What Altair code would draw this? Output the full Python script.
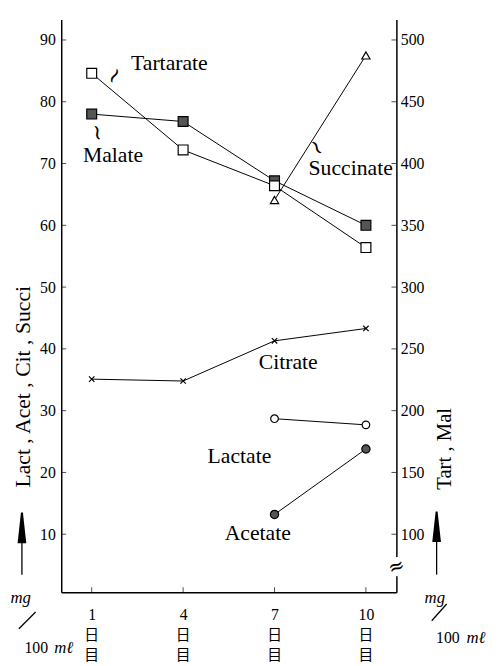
import altair as alt
import pandas as pd

# ---------------- data ----------------
days = [1, 4, 7, 10]
late_days = [7, 10]
tartarate = [473, 411, 382, 332]      # right axis (Tart)
malate = [440, 434, 386, 350]         # right axis (Mal)
citrate = [35.1, 34.8, 41.3, 43.3]    # left axis
succinate = [64.1, 87.5]              # left axis (days 7, 10)
lactate = [28.7, 27.7]                # left axis (days 7, 10)
acetate = [13.2, 23.8]                # left axis (days 7, 10)

left_ticks = [10, 20, 30, 40, 50, 60, 70, 80, 90]
right_ticks = [100, 150, 200, 250, 300, 350, 400, 450, 500]
day_suffix = ["日", "目"]

series_names = ["Tartarate", "Malate", "Succinate", "Citrate", "Lactate", "Acetate"]
label_day = [3.55, 1.7, 9.5, 7.45, 5.85, 6.45]
label_val = [86.2, 71.3, 69.2, 37.8, 22.7, 10.2]

# right axis (Tart, Mal) is drawn on the left scale: right = 5 * left + 50
R_SLOPE, R_OFF = 5, 50

SERIF = "Liberation Serif"
CJK = "Noto Sans CJK JP"

xscale = alt.Scale(domain=[0, 11], nice=False, zero=False)
yscale = alt.Scale(domain=[0.6, 93.3], nice=False, zero=False)

XAXIS = alt.Axis(
    orient="bottom", values=days, ticks=False, grid=False, labelFont=SERIF,
    labelFontSize=16, labelColor="black", labelPadding=15, domainColor="black",
    domainWidth=1.5, title="", labelFlush=False, labelOverlap=False)


def X(field="day"):
    return alt.X(f"{field}:Q", scale=xscale, axis=XAXIS)


def XD(value):
    return alt.X(datum=value, type="quantitative", scale=xscale, axis=XAXIS)


def Y(field="v"):
    return alt.Y(f"{field}:Q", scale=yscale, axis=None)


def series(dlist, vlist, shape, fill, size, filled=True, right=False):
    df = pd.DataFrame({"day": dlist, "raw": vlist})
    if right:
        expr = f"(datum.raw - {R_OFF}) / {R_SLOPE}"
    else:
        expr = "datum.raw"
    base = alt.Chart(df).transform_calculate(v=expr)
    line = base.mark_line(color="black", strokeWidth=1).encode(x=X(), y=Y())
    pts = base.mark_point(
        shape=shape, filled=filled, fill=fill, stroke="black", strokeWidth=1.2,
        size=size, opacity=1
    ).encode(x=X(), y=Y())
    return [line, pts]


CROSS = "M-1,-1L1,1M-1,1L1,-1"
ARROW = "M0,-1L0.22,1L-0.22,1Z"

# x axis carrier (inward ticks drawn as tick marks)
x_axis = alt.Chart(pd.DataFrame({"day": days})).mark_tick(
    orient="vertical", size=5, thickness=1, color="black", yOffset=-2.5).encode(
    x=X(),
    y=alt.Y(datum=0.6, type="quantitative", scale=yscale, axis=None)
)

# left axis
left_axis = alt.Chart(pd.DataFrame({"v": left_ticks})).mark_tick(
    orient="horizontal", size=5, thickness=1, color="black", xOffset=2.5).encode(
    x=XD(0),
    y=alt.Y("v:Q", scale=yscale, axis=alt.Axis(
        orient="left", values=left_ticks, ticks=False, grid=False, labelFont=SERIF,
        labelFontSize=16, labelColor="black", labelPadding=6, domainColor="black",
        domainWidth=1.5, title="Lact , Acet , Cit , Succi", titleFont=SERIF,
        titleFontSize=22, titleFontWeight="normal", titleColor="black", titleAngle=270,
        titleX=-39, titleY=372, titleAlign="center", titleBaseline="middle"))
)

# right axis
right_vals = [(t - R_OFF) / R_SLOPE for t in right_ticks]
right_axis = alt.Chart(pd.DataFrame({"raw": right_ticks})).transform_calculate(
    v=f"(datum.raw - {R_OFF}) / {R_SLOPE}").mark_tick(
    orient="horizontal", size=5, thickness=1, color="black", xOffset=-2.5).encode(
    x=XD(11),
    y=alt.Y("v:Q", scale=yscale, axis=alt.Axis(
        orient="right", values=right_vals, labelExpr=f"format(datum.value * {R_SLOPE} + {R_OFF}, 'd')",
        ticks=False, grid=False, labelFont=SERIF, labelFontSize=16, labelColor="black",
        labelPadding=4, domainColor="black", domainWidth=1.5, title="Tart , Mal",
        titleFont=SERIF, titleFontSize=21, titleFontWeight="normal", titleColor="black",
        titleAngle=270, titleX=49, titleY=435, titleAlign="center", titleBaseline="middle"))
)

layers = []
layers += series(days, citrate, CROSS, None, 30, filled=False)
layers += series(late_days, succinate, "triangle-up", "white", 70)
layers += series(late_days, lactate, "circle", "white", 60)
layers += series(late_days, acetate, "circle", "#555555", 70)
layers += series(days, malate, "square", "#555555", 100, right=True)
layers += series(days, tartarate, "square", "white", 100, right=True)

# the "日 / 目" under each day number
suffix_rows = []
for d in days:
    for k, ch in enumerate(day_suffix):
        suffix_rows.append({"day": d, "t": ch, "v": -6.4 - 3.2 * k})
suffix = alt.Chart(pd.DataFrame(suffix_rows)).mark_text(
    font=CJK, fontSize=15, color="black").encode(x=X(), y=Y(), text="t:N")

lab_df = pd.DataFrame({"t": series_names, "day": label_day, "v": label_val})
labels = alt.Chart(lab_df).mark_text(font=SERIF, fontSize=22, color="black").encode(
    x=X(), y=Y(), text="t:N")


def ann(text, d, v, **kw):
    style = dict(font=SERIF, fontSize=16, color="black")
    style.update(kw)
    return alt.Chart(pd.DataFrame({"t": [text], "day": [d], "v": [v]})).mark_text(**style).encode(
        x=X(), y=Y(), text="t:N")


def seg(d1, v1, d2, v2, width=1.3, color="black"):
    df = pd.DataFrame({"day": [d1], "v": [v1], "day2": [d2], "v2": [v2]})
    return alt.Chart(df).mark_rule(color=color, strokeWidth=width).encode(
        x=X(), y=Y(), x2="day2:Q", y2="v2:Q")


def head(d, v):
    df = pd.DataFrame({"day": [d], "v": [v]})
    return alt.Chart(df).mark_point(shape=ARROW, filled=True, fill="black", stroke="black",
                                    size=900, opacity=1).encode(x=X(), y=Y())


decor = [
    ann("~", 1.74, 84.2, fontSize=22, angle=300, font="DejaVu Serif"),
    ann("~", 1.19, 75.0, fontSize=22, angle=80, font="DejaVu Serif"),
    ann("~", 8.39, 72.6, fontSize=22, angle=60, font="DejaVu Serif"),
    # left units
    seg(-1.29, 3.46, -1.29, 9.5), head(-1.29, 11.1),
    ann("mg", -1.33, -0.3, fontSize=17, fontStyle="italic"),
    seg(-1.39, -5.3, -0.84, -2.6),
    ann("100", -0.82, -8.5),
    ann("mℓ", 0.08, -8.5, fontStyle="italic", fontSize=17),
    # right units
    seg(12.32, 3.46, 12.32, 9.5), head(12.32, 11.28),
    ann("mg", 12.26, -0.3, fontSize=17, fontStyle="italic"),
    seg(12.16, -4.0, 12.65, -1.3),
    ann("100", 12.69, -6.8),
    ann("mℓ", 13.61, -6.8, fontStyle="italic", fontSize=17),
    # axis break on the right axis
    seg(11.0, 3.2, 11.0, 6.3, width=5, color="white"),
    ann("≈", 11.0, 4.7, fontSize=20, angle=340, font="DejaVu Serif"),
]

chart = alt.layer(x_axis, left_axis, right_axis, *layers, labels, suffix, *decor).resolve_axis(
    y="independent"
).properties(
    width=340, height=581,
    autosize="none",
    padding={"left": 54, "top": 7, "right": 98, "bottom": 68},
    background="white",
).configure_view(stroke=None)

chart.save("out.html", embed_options={"renderer": "svg", "actions": False})
